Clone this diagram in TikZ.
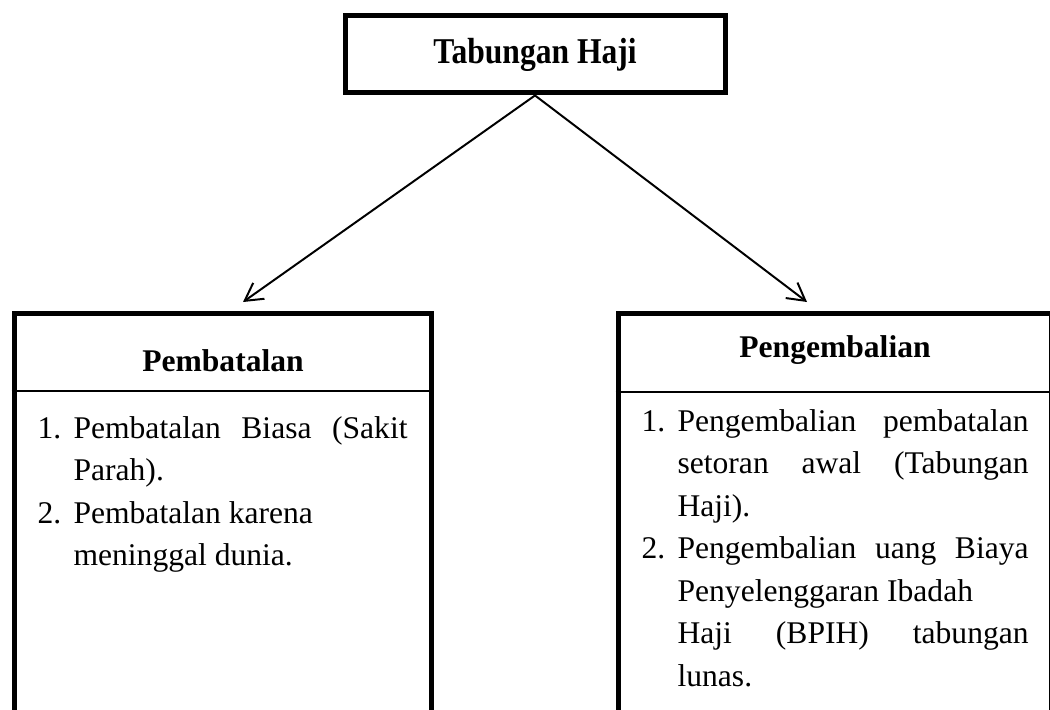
\documentclass[tikz,border=0pt]{standalone}
\usepackage{fontspec}
\setmainfont{Liberation Serif}
\usetikzlibrary{arrows.meta, positioning}
\newlength{\numwd}
\setlength{\numwd}{13.7pt}
\newcommand{\jline}[2]{\makebox[#1][s]{#2}}
\newcommand{\itemno}[1]{\makebox[\numwd][l]{#1}}
\newcommand{\itemgap}{\hspace*{\numwd}}

\begin{document}
\begin{tikzpicture}[
  x=0.38pt, y=-0.38pt,
  every node/.style={font=\fontsize{12}{16.15}\selectfont, inner sep=0pt},
  titlebox/.style={draw, line width=1.9pt, minimum width=144.4pt, minimum height=29.6pt, font=\fontsize{12}{14}\selectfont\bfseries, text depth=2pt},
  colbox/.style={draw, line width=1.9pt, minimum height=161.9pt},
  head/.style={font=\fontsize{12}{14}\selectfont\bfseries, anchor=base},
  itemlist/.style={align=left, anchor=north west},
  divider/.style={line width=0.5pt},
  arr/.style={-{Straight Barb[length=6.6pt, width=7.4pt]}, line width=0.75pt}
]
  \useasboundingbox (0,0) rectangle (1050,709);

  \node[titlebox] (haji) at (535,54) {\scalebox{1}[1.15]{Tabungan Haji}};
  \node[colbox, minimum width=158.8pt] (batal) at (223,527) {};
  \node[colbox, minimum width=164.7pt] (kembali) at (834.75,527) {};

  \node[head] (batalhead) at (223,371) {Pembatalan};
  \node[head] (kembalihead) at (835,357) {Pengembalian};
  \draw[divider] (batal.west |- 0,391) -- (batal.east |- 0,391);
  \draw[divider] (kembali.west |- 0,392) -- (kembali.east |- 0,392);

  \node[itemlist] (batallist) at (37,408) {\strut\itemno{1.}\jline{126.9pt}{Pembatalan Biasa (Sakit}\\
    \itemgap Parah).\\
    \itemno{2.}Pembatalan karena\\
    \itemgap meninggal dunia.};
  \node[itemlist] (kembalilist) at (641,401) {\strut\itemno{1.}\jline{133.4pt}{Pengembalian pembatalan}\\
    \itemgap\jline{133.4pt}{setoran awal (Tabungan}\\
    \itemgap Haji).\\
    \itemno{2.}\jline{133.4pt}{Pengembalian uang Biaya}\\
    \itemgap Penyelenggaran Ibadah\\
    \itemgap\jline{133.4pt}{Haji (BPIH) tabungan}\\
    \itemgap lunas.};

  \coordinate (batalend) at (243,302);
  \coordinate (kembaliend) at (807,302);
  \draw[arr] (haji.south) -- (batalend);
  \draw[arr] (haji.south) -- (kembaliend);
\end{tikzpicture}
\end{document}
